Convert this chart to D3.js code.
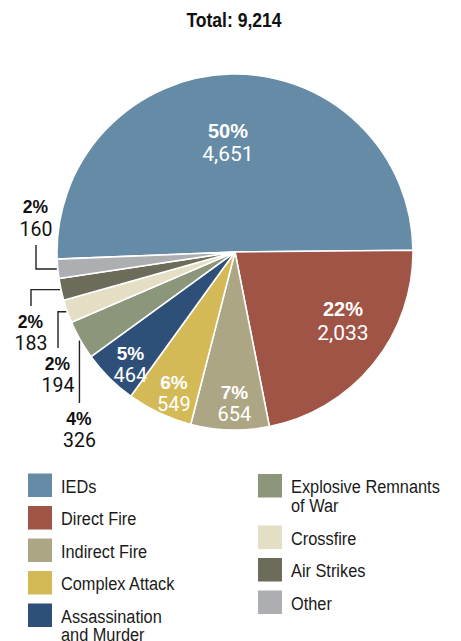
<!DOCTYPE html>
<html>
<head>
<meta charset="utf-8">
<script src="https://cdn.jsdelivr.net/npm/d3@7"></script>
<style>
  html, body { margin: 0; padding: 0; background: #fff; }
  svg { display: block; }
</style>
</head>
<body>
<svg id="chart" width="461" height="641"></svg>
<script>
// ---------------- data ----------------
const categories = ["IEDs", "Direct Fire", "Indirect Fire", "Complex Attack", "Assassination and Murder",
                    "Explosive Remnants of War", "Crossfire", "Air Strikes", "Other"];
const values = [4651, 2033, 654, 549, 464, 326, 194, 183, 160];
const percentLabels = ["50%", "22%", "7%", "6%", "5%", "4%", "2%", "2%", "2%"];
const colors = ["#658ba6", "#a05446", "#ada685", "#d4ba57", "#2e5078", "#8c967a", "#e4dec4", "#6d6b5a", "#adaeb1"];
const legendLeft = [["IEDs"], ["Direct Fire"], ["Indirect Fire"], ["Complex Attack"], ["Assassination", "and Murder"]];
const legendRight = [["Explosive Remnants", "of War"], ["Crossfire"], ["Air Strikes"], ["Other"]];
const totalLabel = "Total: 9,214";

// ---------------- layout ----------------
const W = 461, H = 641;
const cx = 235, cy = 252, R = 178;
const startDeg = -92.3;
const toRad = d => d * Math.PI / 180;

const svg = d3.select("#chart");
const fmt = d3.format(",");
const SANS = "'Liberation Sans', Arial, sans-serif";
const LIGHT = "Roboto, 'Liberation Sans', sans-serif";

// title (condensed look via horizontal scale)
svg.append("g")
  .attr("transform", "translate(234,26.5) scale(0.9,1)")
  .append("text")
  .attr("x", 0).attr("y", 0)
  .attr("text-anchor", "middle")
  .attr("font-family", SANS).attr("font-weight", "bold").attr("font-size", 19.5)
  .attr("fill", "#111")
  .text(totalLabel);

const pie = d3.pie().sort(null).value(d => d)
  .startAngle(toRad(startDeg)).endAngle(toRad(startDeg + 360));
const arcs = pie(values);
const arc = d3.arc().innerRadius(0).outerRadius(R);

const g = svg.append("g").attr("transform", `translate(${cx},${cy})`);
g.selectAll("path.slice").data(arcs).enter().append("path")
  .attr("class", "slice")
  .attr("d", arc)
  .attr("fill", (d, i) => colors[i])
  .attr("stroke", "#fff").attr("stroke-width", 1.6).attr("stroke-linejoin", "round");

const polar = (angDeg, r) => [r * Math.sin(toRad(angDeg)), -r * Math.cos(toRad(angDeg))];
const midDeg = d => ((d.startAngle + d.endAngle) / 2) * 180 / Math.PI;

// inside labels (first five slices)
const innerRadius = [110.7, 127.6, 151, 153.6, 153.6];
const innerNudge = [-2.2, -6.9, -1.4, -1.7, -2.0];
const innerPctSize = [20, 20, 19, 19, 19];
const innerGap = [23.5, 23.5, 22, 22, 22];
arcs.slice(0, 5).forEach((d, i) => {
  const [x, y] = polar(midDeg(d) + innerNudge[i], innerRadius[i]);
  g.append("text")
    .attr("x", x).attr("y", y - 4)
    .attr("text-anchor", "middle")
    .attr("font-family", SANS).attr("font-weight", "bold").attr("font-size", innerPctSize[i])
    .attr("fill", "#fff")
    .text(percentLabels[i]);
  g.append("text")
    .attr("x", x).attr("y", y - 4 + innerGap[i])
    .attr("text-anchor", "middle")
    .attr("font-family", LIGHT).attr("font-weight", 400).attr("font-size", innerPctSize[i] + 1)
    .attr("fill", "#fff")
    .text(fmt(values[i]));
});

// outside labels with leader lines (last four slices)
// lineX: x of the vertical segment (null = straight down from the slice edge), endY: end of vertical
const outside = [
  { idx: 5, lineX: null, endY: 403, dir: 1 },
  { idx: 6, lineX: 58, endY: 348, dir: 1 },
  { idx: 7, lineX: 31, endY: 306, dir: 1 },
  { idx: 8, lineX: 36, endY: 245, dir: -1 }
];
outside.forEach(o => {
  const d = arcs[o.idx];
  const [px, py] = polar(midDeg(d), R + 1);
  const ax = px + cx, ay = py + cy;
  const lx = o.lineX === null ? ax : o.lineX;
  const pts = o.lineX === null ? [[lx, ay], [lx, o.endY]] : [[ax, ay], [lx, ay], [lx, o.endY]];
  svg.append("path")
    .attr("d", d3.line()(pts))
    .attr("fill", "none").attr("stroke", "#222").attr("stroke-width", 1.4);
  let pctY, numY;
  if (o.dir > 0) { pctY = o.endY + 21.5; numY = pctY + 22; }
  else { numY = o.endY - 9; pctY = numY - 23; }
  svg.append("text")
    .attr("x", lx - 0.5).attr("y", pctY)
    .attr("text-anchor", "middle")
    .attr("font-family", SANS).attr("font-weight", "bold").attr("font-size", 17.5)
    .attr("fill", "#111")
    .text(percentLabels[o.idx]);
  svg.append("text")
    .attr("x", lx).attr("y", numY)
    .attr("text-anchor", "middle")
    .attr("font-family", LIGHT).attr("font-weight", 400).attr("font-size", 19.5)
    .attr("fill", "#111")
    .text(fmt(values[o.idx]));
});

// legend
function drawLegend(items, colorOffset, x0, y0) {
  let y = y0;
  items.forEach((lines, i) => {
    svg.append("rect")
      .attr("x", x0).attr("y", y).attr("width", 24).attr("height", 23.5)
      .attr("fill", colors[colorOffset + i]);
    const t = svg.append("g")
      .attr("transform", `translate(${x0 + 33},${y + 19}) scale(0.86,1)`)
      .append("text")
      .attr("x", 0).attr("y", 0)
      .attr("font-family", SANS).attr("font-size", 19)
      .attr("fill", "#1a1a1a");
    lines.forEach((ln, k) => {
      t.append("tspan").attr("x", 0).attr("dy", k === 0 ? 0 : 19).text(ln);
    });
    y += 32.5 + (lines.length - 1) * 19;
  });
}
drawLegend(legendLeft, 0, 28, 473.5);
drawLegend(legendRight, 5, 258, 474);
</script>
</body>
</html>
